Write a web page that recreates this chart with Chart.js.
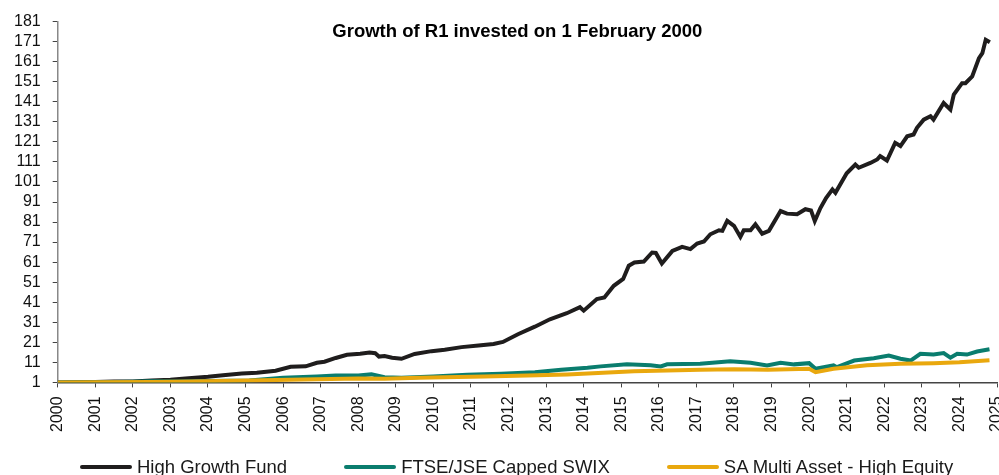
<!DOCTYPE html>
<html>
<head>
<meta charset="utf-8">
<script src="https://cdn.jsdelivr.net/npm/chart.js@4.4.1/dist/chart.umd.min.js"></script>
<style>
  html, body { margin: 0; padding: 0; background: #fff; overflow: hidden; }
  #wrap { position: relative; width: 999px; height: 475px; }
  #legend { position: absolute; left: 80px; top: 456px; display: flex; justify-content: flex-start;
            font-family: 'Liberation Sans', Arial, sans-serif; font-size: 18.5px; color: #1a1a1a; white-space: nowrap; }
  .item { display: flex; align-items: center; margin-right: 57px; }
  .swatch { width: 52px; height: 4px; margin-right: 5px; border-radius: 2px; }
</style>
</head>
<body>
<div id="wrap">
  <canvas id="c" width="999" height="475"></canvas>
  <div id="legend"></div>
</div>
<script>
// ------------------------------------------------------------
// data (decimal year, value of R1)
// ------------------------------------------------------------
const titleText = 'Growth of R1 invested on 1 February 2000';
const seriesNames = ['High Growth Fund', 'FTSE/JSE Capped SWIX', 'SA Multi Asset - High Equity'];
const seriesColors = ['#1f1d1d', '#0a7d6e', '#e9a80e'];

const yTicks = [1,11,21,31,41,51,61,71,81,91,101,111,121,131,141,151,161,171,181];
const xTicks = [2000,2001,2002,2003,2004,2005,2006,2007,2008,2009,2010,2011,2012,2013,2014,2015,2016,2017,2018,2019,2020,2021,2022,2023,2024,2025];

const hgfYears = [2000.0,2000.5,2001.0,2001.5,2002.0,2002.5,2003.0,2003.4,2004.0,2004.4,2004.9,2005.3,2005.8,2006.2,2006.6,2006.9,2007.1,2007.4,2007.7,2008.05,2008.3,2008.45,2008.55,2008.7,2008.9,2009.15,2009.5,2009.95,2010.3,2010.75,2011.2,2011.6,2011.85,2012.25,2012.7,2013.1,2013.55,2013.9,2014.0,2014.35,2014.55,2014.8,2015.05,2015.2,2015.35,2015.6,2015.82,2015.92,2016.08,2016.36,2016.62,2016.84,2017.02,2017.2,2017.37,2017.6,2017.69,2017.82,2018.0,2018.17,2018.26,2018.44,2018.57,2018.75,2018.93,2019.24,2019.41,2019.68,2019.9,2020.05,2020.15,2020.3,2020.45,2020.62,2020.7,2021.0,2021.23,2021.32,2021.63,2021.81,2021.89,2022.07,2022.29,2022.43,2022.61,2022.78,2022.87,2023.05,2023.23,2023.31,2023.58,2023.76,2023.85,2024.07,2024.16,2024.34,2024.52,2024.61,2024.7,2024.81];
const hgfValues = [1.0,1.1,1.2,1.4,1.5,1.9,2.3,3.0,3.8,4.6,5.4,5.8,6.8,8.8,9.0,10.8,11.3,13.2,14.8,15.3,15.9,15.6,13.9,14.2,13.3,12.8,15.2,16.6,17.3,18.6,19.4,20.2,21.2,25.0,28.8,32.5,35.5,38.5,36.8,42.6,43.4,49.2,52.6,59.2,60.8,61.3,65.8,65.6,60.3,66.6,68.6,67.5,70.3,71.3,74.9,76.9,76.6,81.6,79.1,73.6,76.9,76.9,79.9,75.2,76.6,86.5,85.2,84.9,87.4,86.8,81.5,88.0,93.0,97.3,95.6,105.3,109.7,108.1,110.5,112.2,113.9,111.7,120.5,118.9,123.8,124.7,128.0,132.1,133.8,132.1,140.4,137.1,144.6,150.3,150.3,153.7,162.8,165.2,171.9,170.7];

const swixYears = [2000.0,2001.0,2002.0,2002.5,2003.2,2004.0,2005.1,2006.0,2006.9,2007.4,2008.0,2008.35,2008.7,2009.15,2010.0,2010.9,2011.8,2012.7,2013.4,2014.1,2014.45,2015.15,2015.78,2016.05,2016.22,2017.1,2017.9,2018.44,2018.88,2019.24,2019.6,2020.0,2020.17,2020.65,2020.74,2021.2,2021.72,2022.12,2022.43,2022.7,2022.96,2023.31,2023.58,2023.76,2023.94,2024.2,2024.47,2024.8];
const swixValues = [1.0,1.1,1.3,1.6,1.5,1.7,2.0,3.3,4.0,4.5,4.5,5.0,3.6,3.3,4.0,4.8,5.3,6.1,7.3,8.3,9.0,10.0,9.5,9.0,10.0,10.3,11.6,10.8,9.5,10.8,10.0,10.6,7.8,9.5,8.6,11.9,13.1,14.4,12.8,11.9,15.3,14.9,15.6,13.3,15.3,14.9,16.4,17.5];

const maheYears = [2000.0,2001.0,2002.5,2003.5,2005.1,2006.9,2008.0,2008.7,2009.6,2011.35,2012.5,2013.56,2015.34,2017.1,2018.0,2018.9,2020.0,2020.17,2020.65,2021.54,2022.43,2023.31,2024.0,2024.8];
const maheValues = [1.0,1.1,1.2,1.5,2.0,2.6,3.0,2.8,3.3,4.0,4.4,5.0,6.6,7.3,7.6,7.3,7.8,6.1,7.8,9.5,10.3,10.6,11.0,12.0];

const toPoints = (xs, ys) => xs.map((x, i) => ({ x: x, y: ys[i] }));
const seriesData = [toPoints(hgfYears, hgfValues), toPoints(swixYears, swixValues), toPoints(maheYears, maheValues)];

const FONT = "'Liberation Sans', Arial, sans-serif";

// title sits inside the plot area, near the top
const titleInside = {
  id: 'titleInside',
  afterDraw(chart) {
    const { ctx, chartArea } = chart;
    ctx.save();
    ctx.font = 'bold 18.5px ' + FONT;
    ctx.fillStyle = '#000';
    ctx.textAlign = 'center';
    ctx.textBaseline = 'middle';
    ctx.fillText(titleText, (chartArea.left + chartArea.right) / 2 - 10, chartArea.top + 10);
    ctx.restore();
  }
};

new Chart(document.getElementById('c'), {
  type: 'line',
  data: {
    datasets: seriesNames.map((name, i) => ({
      label: name,
      data: seriesData[i],
      borderColor: seriesColors[i],
      backgroundColor: seriesColors[i],
      borderWidth: 4,
      pointRadius: 0,
      tension: 0,
      fill: false,
      order: 3 - i
    }))
  },
  options: {
    responsive: false, animation: false,
    layout: { padding: { left: 2, right: 2, top: 20, bottom: 34 } },
    plugins: { legend: { display: false }, title: { display: false }, tooltip: { enabled: false } },
    scales: {
      x: {
        type: 'linear', min: 2000, max: 2025,
        afterBuildTicks: s => { s.ticks = xTicks.map(v => ({ value: v })); },
        afterFit: s => { s.paddingRight = 0; s.paddingLeft = 0; },
        border: { color: '#444', width: 1.5 },
        grid: { display: true, drawOnChartArea: false, drawTicks: true, tickLength: 5, color: '#444' },
        ticks: { autoSkip: false, minRotation: 90, maxRotation: 90, padding: 9, color: '#111', font: { family: FONT, size: 16 }, callback: v => String(v) }
      },
      y: {
        type: 'linear', min: 1, max: 181,
        afterBuildTicks: s => { s.ticks = yTicks.map(v => ({ value: v })); },
        border: { color: '#888', width: 1.5 },
        grid: { display: true, drawOnChartArea: false, drawTicks: true, tickLength: 5, color: '#444' },
        ticks: { autoSkip: false, padding: 12, color: '#111', font: { family: FONT, size: 16 }, callback: v => String(v) }
      }
    }
  },
  plugins: [titleInside]
});

// legend below the axis
const legend = document.getElementById('legend');
seriesNames.forEach((name, i) => {
  const item = document.createElement('div');
  item.className = 'item';
  item.innerHTML = '<span class="swatch" style="background:' + seriesColors[i] + '"></span><span>' + name + '</span>';
  legend.appendChild(item);
});
</script>
</body>
</html>
